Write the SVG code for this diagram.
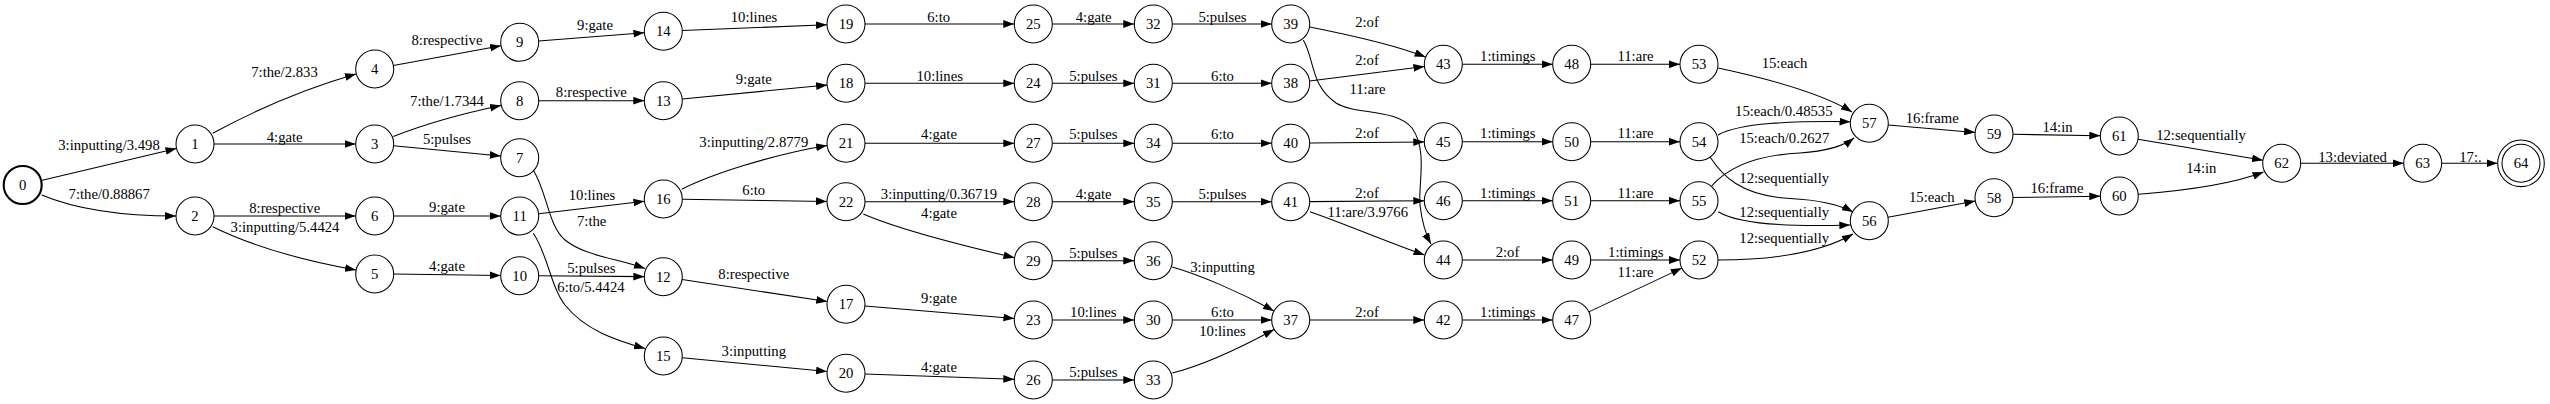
<svg xmlns="http://www.w3.org/2000/svg" width="2550" height="404" viewBox="0 0 2550 404">
<style>
.n circle{fill:none;stroke:#000;stroke-width:1.05}
.n text,.l text{font-family:"Liberation Serif","Times New Roman",serif;font-size:14.7px;text-anchor:middle;fill:#000}
.e path{fill:none;stroke:#000;stroke-width:1.05;marker-end:url(#arr)}
</style>
<defs>
<marker id="arr" markerUnits="userSpaceOnUse" markerWidth="11" markerHeight="8" refX="10.5" refY="3.7" orient="auto" viewBox="0 0 10.5 7.4">
<path d="M0,0 L10.5,3.7 L0,7.4 z" fill="#000"/>
</marker>
</defs>
<rect width="2550" height="404" fill="#fff"/>
<g id="connectors" class="e">
<path d="M41.2,180.6 L176.5,148.4"/>
<path d="M41.7,195 C80,211 130,216 176,216"/>
<path d="M212.7,133.3 C250,113 300,90 356,74"/>
<path d="M214,144 L355.7,144"/>
<path d="M214,216 L355.7,216"/>
<path d="M212.7,226.7 C250,245 300,260 356,270"/>
<path d="M393.4,65.6 L501,45.7"/>
<path d="M393.3,136.5 C425,124 465,113 501,105.5"/>
<path d="M393.6,145.8 L500.8,155.9"/>
<path d="M393.7,216 L500.7,216"/>
<path d="M393.7,274.1 L500.7,275.5"/>
<path d="M538.6,40.9 L644.4,32.8"/>
<path d="M538.7,100.7 L644.3,100.7"/>
<path d="M533.3,170 C548,195 548,225 565,240 C585,256 615,258 645,268.5"/>
<path d="M538.6,213.8 L644.4,201.2"/>
<path d="M533.3,233.3 C548,255 550,285 565,305 C585,330 615,340 645,348.5"/>
<path d="M538.7,275.8 L644.3,276.6"/>
<path d="M682.3,30.5 L827,24.8"/>
<path d="M682.2,98.9 L827.1,85.1"/>
<path d="M681.7,189.3 C710,175 770,155 827,145.5"/>
<path d="M682.3,199.3 L827,201.4"/>
<path d="M682.1,279.5 L827.2,301.5"/>
<path d="M682.2,357.8 L827.1,371.5"/>
<path d="M865,24 L1014.3,24"/>
<path d="M865,83.3 L1014.3,83.3"/>
<path d="M865,143.3 L1014.3,143.3"/>
<path d="M865,201.7 L1014.3,201.7"/>
<path d="M863.3,214 C900,230 960,245 1014.5,257.7"/>
<path d="M864.9,305.9 L1014.4,318.4"/>
<path d="M865,374 L1014.3,379.3"/>
<path d="M1052.3,24 L1134.3,24"/>
<path d="M1052.3,83.3 L1134.3,83.3"/>
<path d="M1052.3,143.3 L1134.3,143.3"/>
<path d="M1052.3,201.7 L1134.3,201.7"/>
<path d="M1052.3,260.7 L1134.3,260.7"/>
<path d="M1052.3,320 L1134.3,320"/>
<path d="M1052.3,380 L1134.3,380"/>
<path d="M1172.3,24 L1271.7,24"/>
<path d="M1172.3,83.3 L1271.7,83.3"/>
<path d="M1172.3,143.3 L1271.7,143.3"/>
<path d="M1172.3,201.7 L1271.7,201.7"/>
<path d="M1172.3,267 C1200,275 1240,292 1274,311"/>
<path d="M1172.3,320 L1271.7,320"/>
<path d="M1172.3,373 C1200,366 1240,348 1274,329.5"/>
<path d="M1309.7,27 C1340,33 1390,43 1425.5,57"/>
<path d="M1309.6,81 L1424.4,66.6"/>
<path d="M1303.3,40 C1315,60 1310,85 1336,103 C1355,115 1395,108 1412,128 C1428,150 1418,185 1420,205 C1422,222 1426,235 1431,244"/>
<path d="M1309.7,143.1 L1424.3,141.9"/>
<path d="M1309.7,201.6 L1424.3,200.8"/>
<path d="M1310,211.7 C1340,222 1390,243 1424.5,255"/>
<path d="M1309.7,320 L1424.3,320"/>
<path d="M1462.3,64.3 L1552.7,64.3"/>
<path d="M1462.3,141.7 L1552.7,141.7"/>
<path d="M1462.3,200.7 L1552.7,200.7"/>
<path d="M1462.3,260 L1552.7,260"/>
<path d="M1462.3,320 L1552.7,320"/>
<path d="M1590.7,64.3 L1680,64.3"/>
<path d="M1590.7,141.7 L1680,141.7"/>
<path d="M1590.7,200.7 L1680,200.7"/>
<path d="M1590.7,260 L1680,260"/>
<path d="M1588.9,311.9 L1681.8,268.1"/>
<path d="M1718.3,68 C1760,77 1820,92 1852,112"/>
<path d="M1718,135 C1740,123 1790,121 1850.5,121.7"/>
<path d="M1711.7,186 C1730,165 1760,155 1800,153 C1830,151 1845,145 1854,138"/>
<path d="M1710,157 C1722,175 1740,196 1790,198.5 C1820,200 1840,205 1853,212"/>
<path d="M1718.3,211.7 C1740,225 1790,227 1850.3,225"/>
<path d="M1718,260 C1770,260 1820,253 1853,234"/>
<path d="M1888.2,124.9 L1975.1,132.4"/>
<path d="M1888,217.3 L1975.3,201.1"/>
<path d="M2013,134.3 L2100.3,135.7"/>
<path d="M2013,197.5 L2100.3,196.2"/>
<path d="M2138,139.2 L2263,160.2"/>
<path d="M2138.3,194.3 C2180,191 2230,185 2263.5,172"/>
<path d="M2300.7,163.3 L2403.7,163.3"/>
<path d="M2441.7,163.3 L2497.5,163.3"/>
</g>
<g id="edge-labels" class="l">
<text x="109" y="149.5">3:inputting/3.498</text>
<text x="109.2" y="199">7:the/0.88867</text>
<text x="284.5" y="77.3">7:the/2.833</text>
<text x="284.7" y="142">4:gate</text>
<text x="284.7" y="213.3">8:respective</text>
<text x="285" y="231.7">3:inputting/5.4424</text>
<text x="447" y="45">8:respective</text>
<text x="447" y="105.5">7:the/1.7344</text>
<text x="447" y="144">5:pulses</text>
<text x="447" y="212">9:gate</text>
<text x="447" y="271">4:gate</text>
<text x="595" y="30">9:gate</text>
<text x="591.3" y="97.3">8:respective</text>
<text x="592" y="200">10:lines</text>
<text x="591.7" y="226">7:the</text>
<text x="591.3" y="273.3">5:pulses</text>
<text x="591" y="291.7">6:to/5.4424</text>
<text x="754" y="21.7">10:lines</text>
<text x="753.8" y="84">9:gate</text>
<text x="753.8" y="146.7">3:inputting/2.8779</text>
<text x="753.8" y="195">6:to</text>
<text x="753.8" y="279.3">8:respective</text>
<text x="753.8" y="355.7">3:inputting</text>
<text x="938.7" y="21.7">6:to</text>
<text x="939.7" y="80.7">10:lines</text>
<text x="939" y="139.3">4:gate</text>
<text x="939" y="199">3:inputting/0.36719</text>
<text x="939" y="218.3">4:gate</text>
<text x="939" y="303.3">9:gate</text>
<text x="939" y="371.7">4:gate</text>
<text x="1093.7" y="21.7">4:gate</text>
<text x="1093.3" y="80.7">5:pulses</text>
<text x="1093.3" y="139.3">5:pulses</text>
<text x="1093.7" y="199">4:gate</text>
<text x="1093.3" y="258.3">5:pulses</text>
<text x="1093.3" y="317.3">10:lines</text>
<text x="1093.3" y="376.7">5:pulses</text>
<text x="1222.5" y="21.7">5:pulses</text>
<text x="1222.5" y="80.7">6:to</text>
<text x="1222.5" y="139.3">6:to</text>
<text x="1222.5" y="199">5:pulses</text>
<text x="1222.5" y="271.7">3:inputting</text>
<text x="1222.5" y="317.3">6:to</text>
<text x="1222.5" y="336">10:lines</text>
<text x="1367" y="26.7">2:of</text>
<text x="1367" y="65">2:of</text>
<text x="1367.5" y="94.3">11:are</text>
<text x="1367" y="138.3">2:of</text>
<text x="1367" y="198.3">2:of</text>
<text x="1367.7" y="217.3">11:are/3.9766</text>
<text x="1367" y="317.3">2:of</text>
<text x="1507.8" y="61">1:timings</text>
<text x="1507.8" y="138.3">1:timings</text>
<text x="1507.8" y="198.3">1:timings</text>
<text x="1507.5" y="257.3">2:of</text>
<text x="1507.8" y="317.3">1:timings</text>
<text x="1635.5" y="61">11:are</text>
<text x="1635.5" y="138.3">11:are</text>
<text x="1635.5" y="198.3">11:are</text>
<text x="1635.8" y="257.3">1:timings</text>
<text x="1635.5" y="276.7">11:are</text>
<text x="1784.5" y="68.3">15:each</text>
<text x="1783.8" y="116">15:each/0.48535</text>
<text x="1784.2" y="143.3">15:each/0.2627</text>
<text x="1784.2" y="182.7">12:sequentially</text>
<text x="1784.2" y="217.3">12:sequentially</text>
<text x="1784.2" y="242.7">12:sequentially</text>
<text x="1932.2" y="123.3">16:frame</text>
<text x="1931.8" y="201.7">15:each</text>
<text x="2057.5" y="131.7">14:in</text>
<text x="2057" y="192.7">16:frame</text>
<text x="2201" y="140">12:sequentially</text>
<text x="2201.3" y="173.3">14:in</text>
<text x="2352.5" y="161.7">13:deviated</text>
<text x="2470.5" y="161.7">17:.</text>
</g>
<g id="node0" class="n"><circle cx="22.7" cy="185" r="19" style="stroke-width:2.1"/><text x="22.7" y="190">0</text></g>
<g id="node1" class="n"><circle cx="195" cy="144" r="19"/><text x="195" y="149">1</text></g>
<g id="node2" class="n"><circle cx="195" cy="216" r="19"/><text x="195" y="221">2</text></g>
<g id="node3" class="n"><circle cx="374.7" cy="144" r="19"/><text x="374.7" y="149">3</text></g>
<g id="node4" class="n"><circle cx="374.7" cy="69" r="19"/><text x="374.7" y="74">4</text></g>
<g id="node5" class="n"><circle cx="374.7" cy="274" r="19"/><text x="374.7" y="279">5</text></g>
<g id="node6" class="n"><circle cx="374.7" cy="216" r="19"/><text x="374.7" y="221">6</text></g>
<g id="node7" class="n"><circle cx="519.7" cy="157.7" r="19"/><text x="519.7" y="162.7">7</text></g>
<g id="node8" class="n"><circle cx="519.7" cy="100.7" r="19"/><text x="519.7" y="105.7">8</text></g>
<g id="node9" class="n"><circle cx="519.7" cy="42.3" r="19"/><text x="519.7" y="47.3">9</text></g>
<g id="node10" class="n"><circle cx="519.7" cy="275.7" r="19"/><text x="519.7" y="280.7">10</text></g>
<g id="node11" class="n"><circle cx="519.7" cy="216" r="19"/><text x="519.7" y="221">11</text></g>
<g id="node12" class="n"><circle cx="663.3" cy="276.7" r="19"/><text x="663.3" y="281.7">12</text></g>
<g id="node13" class="n"><circle cx="663.3" cy="100.7" r="19"/><text x="663.3" y="105.7">13</text></g>
<g id="node14" class="n"><circle cx="663.3" cy="31.3" r="19"/><text x="663.3" y="36.3">14</text></g>
<g id="node15" class="n"><circle cx="663.3" cy="356" r="19"/><text x="663.3" y="361">15</text></g>
<g id="node16" class="n"><circle cx="663.3" cy="199" r="19"/><text x="663.3" y="204">16</text></g>
<g id="node17" class="n"><circle cx="846" cy="304.3" r="19"/><text x="846" y="309.3">17</text></g>
<g id="node18" class="n"><circle cx="846" cy="83.3" r="19"/><text x="846" y="88.3">18</text></g>
<g id="node19" class="n"><circle cx="846" cy="24" r="19"/><text x="846" y="29">19</text></g>
<g id="node20" class="n"><circle cx="846" cy="373.3" r="19"/><text x="846" y="378.3">20</text></g>
<g id="node21" class="n"><circle cx="846" cy="143.3" r="19"/><text x="846" y="148.3">21</text></g>
<g id="node22" class="n"><circle cx="846" cy="201.7" r="19"/><text x="846" y="206.7">22</text></g>
<g id="node23" class="n"><circle cx="1033.3" cy="320" r="19"/><text x="1033.3" y="325">23</text></g>
<g id="node24" class="n"><circle cx="1033.3" cy="83.3" r="19"/><text x="1033.3" y="88.3">24</text></g>
<g id="node25" class="n"><circle cx="1033.3" cy="24" r="19"/><text x="1033.3" y="29">25</text></g>
<g id="node26" class="n"><circle cx="1033.3" cy="380" r="19"/><text x="1033.3" y="385">26</text></g>
<g id="node27" class="n"><circle cx="1033.3" cy="143.3" r="19"/><text x="1033.3" y="148.3">27</text></g>
<g id="node28" class="n"><circle cx="1033.3" cy="201.7" r="19"/><text x="1033.3" y="206.7">28</text></g>
<g id="node29" class="n"><circle cx="1033.3" cy="260.7" r="19"/><text x="1033.3" y="265.7">29</text></g>
<g id="node30" class="n"><circle cx="1153.3" cy="320" r="19"/><text x="1153.3" y="325">30</text></g>
<g id="node31" class="n"><circle cx="1153.3" cy="83.3" r="19"/><text x="1153.3" y="88.3">31</text></g>
<g id="node32" class="n"><circle cx="1153.3" cy="24" r="19"/><text x="1153.3" y="29">32</text></g>
<g id="node33" class="n"><circle cx="1153.3" cy="380" r="19"/><text x="1153.3" y="385">33</text></g>
<g id="node34" class="n"><circle cx="1153.3" cy="143.3" r="19"/><text x="1153.3" y="148.3">34</text></g>
<g id="node35" class="n"><circle cx="1153.3" cy="201.7" r="19"/><text x="1153.3" y="206.7">35</text></g>
<g id="node36" class="n"><circle cx="1153.3" cy="260.7" r="19"/><text x="1153.3" y="265.7">36</text></g>
<g id="node37" class="n"><circle cx="1290.7" cy="320" r="19"/><text x="1290.7" y="325">37</text></g>
<g id="node38" class="n"><circle cx="1290.7" cy="83.3" r="19"/><text x="1290.7" y="88.3">38</text></g>
<g id="node39" class="n"><circle cx="1290.7" cy="24" r="19"/><text x="1290.7" y="29">39</text></g>
<g id="node40" class="n"><circle cx="1290.7" cy="143.3" r="19"/><text x="1290.7" y="148.3">40</text></g>
<g id="node41" class="n"><circle cx="1290.7" cy="201.7" r="19"/><text x="1290.7" y="206.7">41</text></g>
<g id="node42" class="n"><circle cx="1443.3" cy="320" r="19"/><text x="1443.3" y="325">42</text></g>
<g id="node43" class="n"><circle cx="1443.3" cy="64.3" r="19"/><text x="1443.3" y="69.3">43</text></g>
<g id="node44" class="n"><circle cx="1443.3" cy="260" r="19"/><text x="1443.3" y="265">44</text></g>
<g id="node45" class="n"><circle cx="1443.3" cy="141.7" r="19"/><text x="1443.3" y="146.7">45</text></g>
<g id="node46" class="n"><circle cx="1443.3" cy="200.7" r="19"/><text x="1443.3" y="205.7">46</text></g>
<g id="node47" class="n"><circle cx="1571.7" cy="320" r="19"/><text x="1571.7" y="325">47</text></g>
<g id="node48" class="n"><circle cx="1571.7" cy="64.3" r="19"/><text x="1571.7" y="69.3">48</text></g>
<g id="node49" class="n"><circle cx="1571.7" cy="260" r="19"/><text x="1571.7" y="265">49</text></g>
<g id="node50" class="n"><circle cx="1571.7" cy="141.7" r="19"/><text x="1571.7" y="146.7">50</text></g>
<g id="node51" class="n"><circle cx="1571.7" cy="200.7" r="19"/><text x="1571.7" y="205.7">51</text></g>
<g id="node52" class="n"><circle cx="1699" cy="260" r="19"/><text x="1699" y="265">52</text></g>
<g id="node53" class="n"><circle cx="1699" cy="64.3" r="19"/><text x="1699" y="69.3">53</text></g>
<g id="node54" class="n"><circle cx="1699" cy="141.7" r="19"/><text x="1699" y="146.7">54</text></g>
<g id="node55" class="n"><circle cx="1699" cy="200.7" r="19"/><text x="1699" y="205.7">55</text></g>
<g id="node56" class="n"><circle cx="1869.3" cy="220.7" r="19"/><text x="1869.3" y="225.7">56</text></g>
<g id="node57" class="n"><circle cx="1869.3" cy="123.3" r="19"/><text x="1869.3" y="128.3">57</text></g>
<g id="node58" class="n"><circle cx="1994" cy="197.7" r="19"/><text x="1994" y="202.7">58</text></g>
<g id="node59" class="n"><circle cx="1994" cy="134" r="19"/><text x="1994" y="139">59</text></g>
<g id="node60" class="n"><circle cx="2119.3" cy="196" r="19"/><text x="2119.3" y="201">60</text></g>
<g id="node61" class="n"><circle cx="2119.3" cy="136" r="19"/><text x="2119.3" y="141">61</text></g>
<g id="node62" class="n"><circle cx="2281.7" cy="163.3" r="19"/><text x="2281.7" y="168.3">62</text></g>
<g id="node63" class="n"><circle cx="2422.7" cy="163.3" r="19"/><text x="2422.7" y="168.3">63</text></g>
<g id="node64" class="n"><circle cx="2521" cy="163.3" r="19"/><circle cx="2521" cy="163.3" r="23.3"/><text x="2521" y="168.3">64</text></g>
</svg>
